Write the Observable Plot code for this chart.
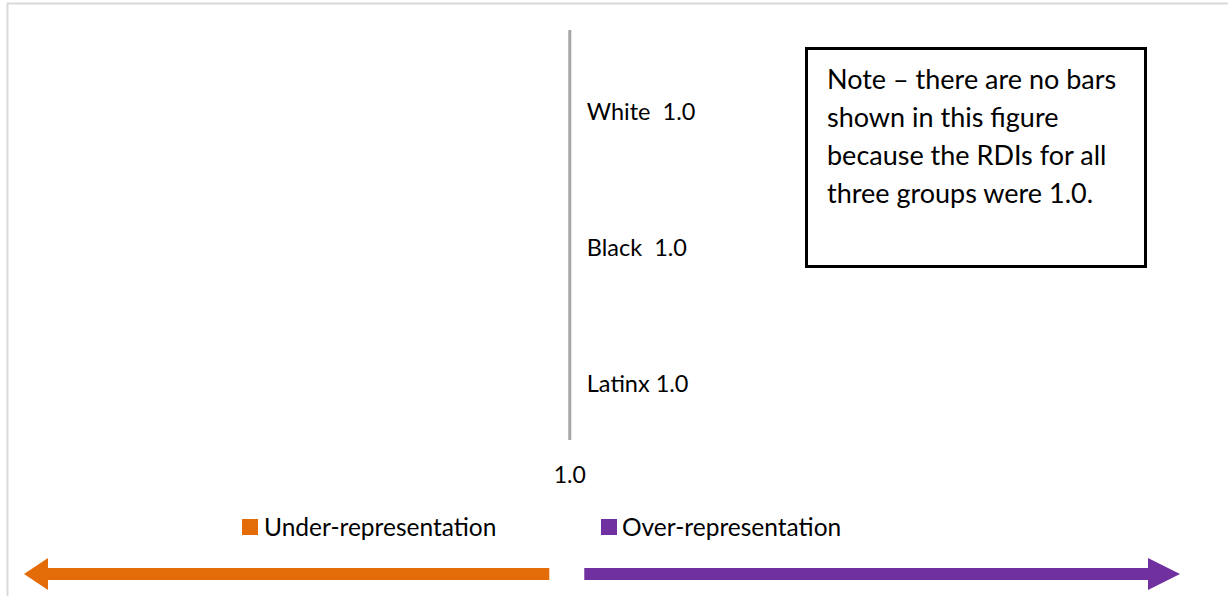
<!DOCTYPE html>
<html><head><meta charset="utf-8">
<script src="https://cdn.jsdelivr.net/npm/d3@7"></script>
<script src="https://cdn.jsdelivr.net/npm/@observablehq/plot@0.6"></script>
<style>
body{margin:0;background:#fff;}
#chart{width:1228px;height:596px;overflow:hidden;}
#chart svg{font-family:Lato,"Open Sans",sans-serif;white-space:pre;}
</style>
</head><body><div id="chart"></div>
<script>
const groups = ["White", "Black", "Latinx"];
const rdi = [1.0, 1.0, 1.0];
const baseline = 1.0;
const labelSep = ["  ", "  ", " "];
const legendLabels = ["Under-representation", "Over-representation"];
const legendColors = ["#E36C09", "#7030A0"];
const noteLines = ["Note – there are no bars", "shown in this figure", "because the RDIs for all", "three groups were 1.0."];

const data = groups.map((g, i) => ({group: g, rdi: rdi[i], sep: labelSep[i]}));
const FONT = "Lato, 'Open Sans', sans-serif";

function decorations(index, scales, values, dims) {
  const x0 = scales.x(baseline);
  const g = d3.create("svg:g").attr("text-anchor", "start");
  // chart area frame (light gray)
  g.append("path").attr("d", "M7.5,596V3.5H1228").attr("fill", "none").attr("stroke", "#d9d9d9").attr("stroke-width", 2);
  // legend
  const leg = [{sx: 242, tx: 264}, {sx: 601, tx: 622}];
  leg.forEach((p, i) => {
    g.append("rect").attr("x", p.sx).attr("y", 519).attr("width", 16).attr("height", 16).attr("fill", legendColors[i]);
    g.append("text").attr("x", p.tx).attr("y", 527).attr("dy", "0.35em").attr("text-anchor", "start")
      .attr("font-size", 24.5).attr("font-family", FONT).attr("fill", "#000").text(legendLabels[i]);
  });
  // arrows
  const xl = 24, xr = 1180;
  const cy = 574;
  const under = `M${x0 - 20},${cy - 6}H${xl + 24}V${cy - 16}L${xl},${cy}L${xl + 24},${cy + 16}V${cy + 6}H${x0 - 20}Z`;
  const over = `M${x0 + 15},${cy - 6}H${xr - 32}V${cy - 16}L${xr},${cy}L${xr - 32},${cy + 16}V${cy + 6}H${x0 + 15}Z`;
  g.append("path").attr("d", under).attr("fill", legendColors[0]);
  g.append("path").attr("d", over).attr("fill", legendColors[1]);
  // note box
  g.append("rect").attr("x", 806.5).attr("y", 48.5).attr("width", 339).attr("height", 218)
    .attr("fill", "#fff").attr("stroke", "#000").attr("stroke-width", 3);
  noteLines.forEach((t, i) => {
    g.append("text").attr("x", 827).attr("y", 80 + i * 38).attr("dy", "0.35em").attr("text-anchor", "start")
      .attr("font-size", 27).attr("font-family", FONT).attr("fill", "#000").text(t);
  });
  return g.node();
}

const chart = Plot.plot({
  width: 1228,
  height: 596,
  marginLeft: 24,
  marginRight: 48,
  marginTop: 30,
  marginBottom: 156,
  style: {fontFamily: FONT, background: "#fff", overflow: "visible"},
  x: {domain: [0.5, 1.56], axis: null, label: null},
  y: {domain: groups, axis: null, padding: 0},
  marks: [
    Plot.barX(data, {x1: baseline, x2: "rdi", y: "group", fill: legendColors[1]}),
    Plot.ruleX([baseline], {stroke: "#a6a6a6", strokeWidth: 3}),
    Plot.text(data, {x: baseline, y: "group", text: d => d.group + d.sep + d.rdi.toFixed(1),
      textAnchor: "start", dx: 17, dy: 13, fontSize: 23.5, fill: "#000"}),
    Plot.axisX([baseline], {tickSize: 0, tickPadding: 26, tickFormat: d3.format(".1f"), fontSize: 23, fill: "#000", anchor: "bottom", label: null}),
    decorations
  ]
});
document.getElementById("chart").appendChild(chart);
</script>
</body></html>
